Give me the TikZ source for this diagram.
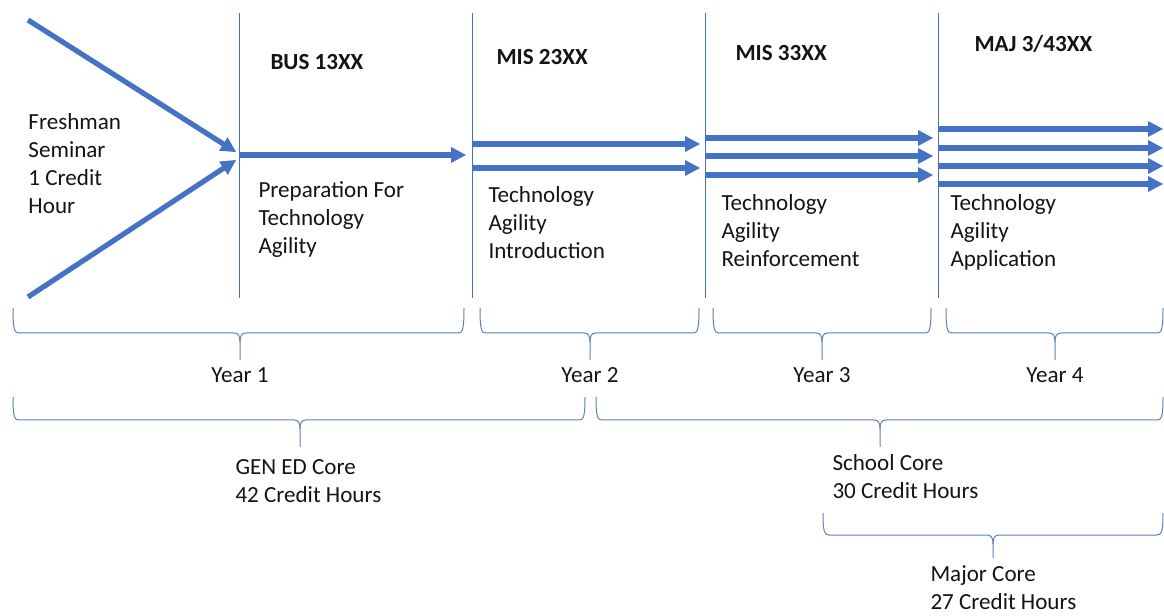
\documentclass[tikz,border=0pt]{standalone}
\usepackage{fontspec}
\setmainfont{Carlito}

% brace opening upwards: left x, right x, middle x, top y, bar y, tip y
\newcommand{\spanbrace}[6]{%
	\draw [brace line] (#1,#4) .. controls (#1,{#5-3}) and ({#1+1.5},#5) .. ({#1+6},#5) -- ({#3-6},#5) .. controls ({#3-1.5},#5) and (#3,{#5+3}) .. (#3,{#5+9}) -- (#3,#6) ;
	\draw [brace line] (#2,#4) .. controls (#2,{#5-3}) and ({#2-1.5},#5) .. ({#2-6},#5) -- ({#3+6},#5) .. controls ({#3+1.5},#5) and (#3,{#5+3}) .. (#3,{#5+9}) ;
}

\tikzset{every picture/.style={line width=0.75pt}}
\tikzset{
	flow/.style={color={rgb, 255:red, 68; green, 114; blue, 196 }, line width=3.9pt},
	flow head/.style={fill={rgb, 255:red, 68; green, 114; blue, 196 }, line width=0.08, draw opacity=0},
	divider/.style={color={rgb, 255:red, 68; green, 114; blue, 196 }, line width=0.75pt},
	brace line/.style={color={rgb, 255:red, 96; green, 128; blue, 186 }, line width=0.75pt},
	body text/.style={anchor=west, align=left, inner sep=0pt, text={rgb, 255:red, 20; green, 20; blue, 20 }, font=\fontsize{17.3}{21}\selectfont},
	course/.style={body text, font=\fontsize{17.3}{21}\selectfont\bfseries}}

\begin{document}
\begin{tikzpicture}[x=0.75pt,y=0.75pt,yscale=-1,xscale=1]
	\useasboundingbox (0,0) rectangle (1164,616);

	%Straight Lines: year dividers
	\draw [divider]   (239,13) -- (239,298) ;
	\draw [divider]   (472,13) -- (472,298) ;
	\draw [divider]   (705,13) -- (705,298) ;
	\draw [divider]   (938,13) -- (938,298) ;

	%Straight Lines: converging arrows
	\draw [flow]   (28,20) -- (230.9,148.8) ;
	\fill [shift={(236,152)}, rotate = 212.39] [flow head] (15,-8) -- (0,0) -- (15,8) -- cycle ;
	\draw [flow]   (28,297) -- (231,163.3) ;
	\fill [shift={(236,160)}, rotate = 146.63] [flow head] (15,-8) -- (0,0) -- (15,8) -- cycle ;

	%Straight Lines: year 1
	\draw [flow]   (239,155) -- (460,155) ;
	\fill [shift={(466,155)}, rotate = 180] [flow head] (15,-8) -- (0,0) -- (15,8) -- cycle ;

	%Straight Lines: year 2
	\draw [flow]   (472,144) -- (694,144) ;
	\fill [shift={(700,144)}, rotate = 180] [flow head] (15,-8) -- (0,0) -- (15,8) -- cycle ;
	\draw [flow]   (472,168) -- (694,168) ;
	\fill [shift={(700,168)}, rotate = 180] [flow head] (15,-8) -- (0,0) -- (15,8) -- cycle ;

	%Straight Lines: year 3
	\draw [flow]   (705,138) -- (927,138) ;
	\fill [shift={(933,138)}, rotate = 180] [flow head] (15,-8) -- (0,0) -- (15,8) -- cycle ;
	\draw [flow]   (705,156) -- (927,156) ;
	\fill [shift={(933,156)}, rotate = 180] [flow head] (15,-8) -- (0,0) -- (15,8) -- cycle ;
	\draw [flow]   (705,175) -- (927,175) ;
	\fill [shift={(933,175)}, rotate = 180] [flow head] (15,-8) -- (0,0) -- (15,8) -- cycle ;

	%Straight Lines: year 4
	\draw [flow]   (938,129) -- (1157,129) ;
	\fill [shift={(1163,129)}, rotate = 180] [flow head] (15,-8) -- (0,0) -- (15,8) -- cycle ;
	\draw [flow]   (938,148) -- (1157,148) ;
	\fill [shift={(1163,148)}, rotate = 180] [flow head] (15,-8) -- (0,0) -- (15,8) -- cycle ;
	\draw [flow]   (938,166) -- (1157,166) ;
	\fill [shift={(1163,166)}, rotate = 180] [flow head] (15,-8) -- (0,0) -- (15,8) -- cycle ;
	\draw [flow]   (938,184) -- (1157,184) ;
	\fill [shift={(1163,184)}, rotate = 180] [flow head] (15,-8) -- (0,0) -- (15,8) -- cycle ;

	%Shape: Brace, years
	\spanbrace{13}{464}{240}{308}{333}{360}
	\spanbrace{480}{699}{590}{308}{333}{360}
	\spanbrace{713}{931}{822}{308}{333}{360}
	\spanbrace{946}{1163}{1055}{308}{333}{360}
	%Shape: Brace, cores
	\spanbrace{13}{585}{300}{397}{420}{447}
	\spanbrace{596}{1163}{880}{397}{420}{447}
	\spanbrace{823}{1163}{993}{513}{535}{558}

	% Text Node
	\draw (28,163.5) node [body text] (fresh) {Freshman\\Seminar\\1 Credit\\Hour};
	% Text Node
	\draw (270,62) node [course] (bus) {BUS 13XX};
	% Text Node
	\draw (496,57) node [course] (mis2) {MIS 23XX};
	% Text Node
	\draw (735,53) node [course] (mis3) {MIS 33XX};
	% Text Node
	\draw (974,44) node [course] (maj) {MAJ 3/43XX};
	% Text Node
	\draw (258,219.5) node [body text] (prep) {Preparation For\\Technology\\Agility};
	% Text Node
	\draw (488,222.5) node [body text] (intro) {Technology\\Agility\\Introduction};
	% Text Node
	\draw (721,230.5) node [body text] (reinf) {Technology\\Agility\\Reinforcement};
	% Text Node
	\draw (950,232.5) node [body text] (appl) {Technology\\Agility\\Application};
	% Text Node
	\draw (240,375) node [body text, anchor=center] (y1) {Year 1};
	% Text Node
	\draw (590,375) node [body text, anchor=center] (y2) {Year 2};
	% Text Node
	\draw (822,375) node [body text, anchor=center] (y3) {Year 3};
	% Text Node
	\draw (1055,375) node [body text, anchor=center] (y4) {Year 4};
	% Text Node
	\draw (235,481) node [body text] (gened) {GEN ED Core\\42 Credit Hours};
	% Text Node
	\draw (832,477) node [body text] (school) {School Core\\30 Credit Hours};
	% Text Node
	\draw (930,588) node [body text] (major) {Major Core\\27 Credit Hours};

\end{tikzpicture}
\end{document}
